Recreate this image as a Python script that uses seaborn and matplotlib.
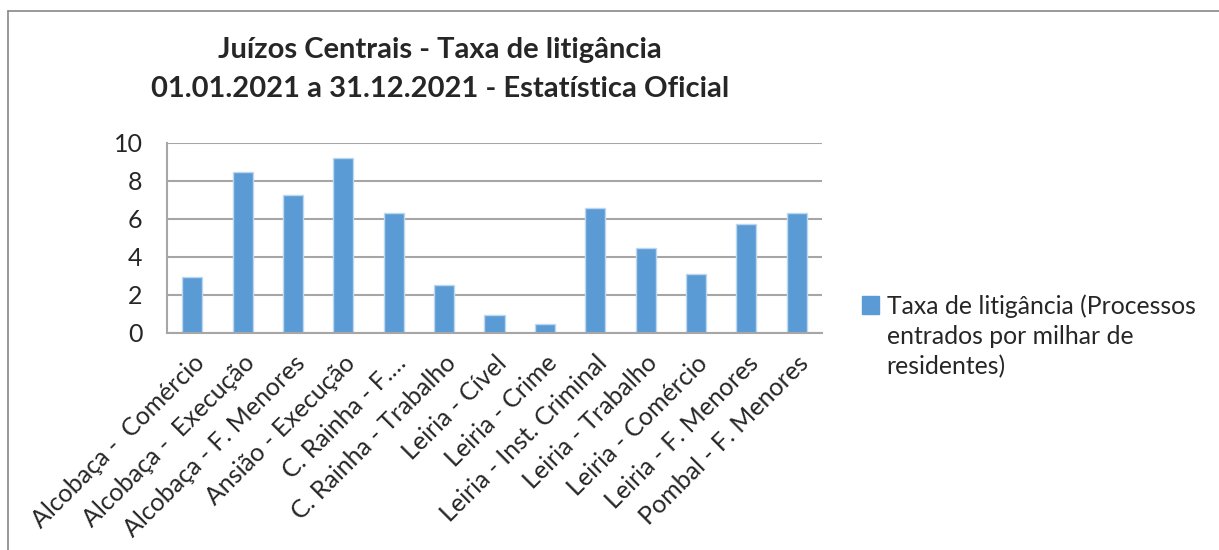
import matplotlib
matplotlib.use("Agg")
import matplotlib.pyplot as plt
import seaborn as sns
import pandas as pd
from matplotlib.lines import Line2D
from matplotlib.patches import Patch

categories = [
    "Alcobaça -  Comércio",
    "Alcobaça -  Execução",
    "Alcobaça - F. Menores",
    "Ansião - Execução",
    "C. Rainha - F.…",
    "C. Rainha - Trabalho",
    "Leiria - Cível",
    "Leiria - Crime",
    "Leiria - Inst. Criminal",
    "Leiria - Trabalho",
    "Leiria - Comércio",
    "Leiria - F. Menores",
    "Pombal - F. Menores",
]
values = [2.93, 8.49, 7.28, 9.23, 6.34, 2.53, 0.93, 0.47, 6.58, 4.49, 3.13, 5.74, 6.34]
legend_lines = ["Taxa de litigância (Processos", "entrados por milhar de", "residentes)"]
title_lines = ["Juízos Centrais - Taxa de litigância",
               "01.01.2021 a 31.12.2021 - Estatística Oficial"]
yticks = [0, 2, 4, 6, 8, 10]

sns.set_style("white")
plt.rcParams['font.family'] = ['Lato', 'DejaVu Sans']

df = pd.DataFrame({"cat": categories, "val": values})

W, H = 1219, 550
fig = plt.figure(figsize=(W / 100, H / 100), dpi=100)
ax = fig.add_axes([167 / W, 1 - 333 / H, (822 - 167) / W, (333 - 143) / H])

bar_color = "#5b9bd5"
grid_c = "#a6a6a6"
sns.barplot(data=df, x="cat", y="val", color=bar_color, width=0.4,
            edgecolor="#bdd7ee", linewidth=1, ax=ax, saturation=1)

ax.set_xlim(-0.5, len(categories) - 0.5)
ax.set_ylim(0, 10)
ax.set_yticks(yticks)
ax.set_yticklabels([str(t) for t in yticks], fontsize=18)
ax.yaxis.grid(True, color=grid_c, linewidth=1.5)
ax.set_axisbelow(True)
ax.set_xlabel("")
ax.set_ylabel("")

ax.set_xticks([i - 0.5 for i in range(len(categories) + 1)], minor=True)
ax.tick_params(axis="x", which="minor", length=6, color=grid_c, width=1.5)
ax.tick_params(axis="x", which="major", length=0, pad=13)
ax.tick_params(axis="y", length=6.5, color=grid_c, width=1.5, pad=11)
ax.set_xticks(range(len(categories)))
ax.set_xticklabels(categories, rotation=45, ha="right", rotation_mode="anchor",
                   fontsize=18)

for s in ["top", "right"]:
    ax.spines[s].set_visible(False)
for s in ["left", "bottom"]:
    ax.spines[s].set_color(grid_c)
    ax.spines[s].set_linewidth(1.5)

fig.text(440 / W, 1 - 50 / H, title_lines[0], ha="center", va="center",
         fontsize=21, fontweight="bold")
fig.text(440 / W, 1 - 89 / H, title_lines[1], ha="center", va="center",
         fontsize=21, fontweight="bold")

# Legend: handle aligned with first line of the label
handle = Patch(facecolor=bar_color, edgecolor=bar_color)
leg = fig.legend([handle], [legend_lines[0]], loc="center left",
                 bbox_to_anchor=(862 / W, 1 - 306 / H), frameon=False,
                 fontsize=17.8, handlelength=0.7, handleheight=0.7,
                 handletextpad=0.3, borderpad=0, borderaxespad=0)
fig.canvas.draw()
txt = leg.get_texts()[0]
bb = txt.get_window_extent()
x0 = bb.x0 / W
for i, line in enumerate(legend_lines[1:], start=1):
    fig.text(x0, 1 - (306 + 30.5 * i) / H, line, ha="left", va="center",
             fontsize=17.8)

# Outer chart border
fig.add_artist(Line2D([8 / W, 8 / W], [0, 1 - 11 / H], color="#888888", lw=1.2,
                      transform=fig.transFigure))
fig.add_artist(Line2D([8 / W, 1], [1 - 11 / H, 1 - 11 / H], color="#888888", lw=1.2,
                      transform=fig.transFigure))

fig.savefig("out.png", dpi=100)
